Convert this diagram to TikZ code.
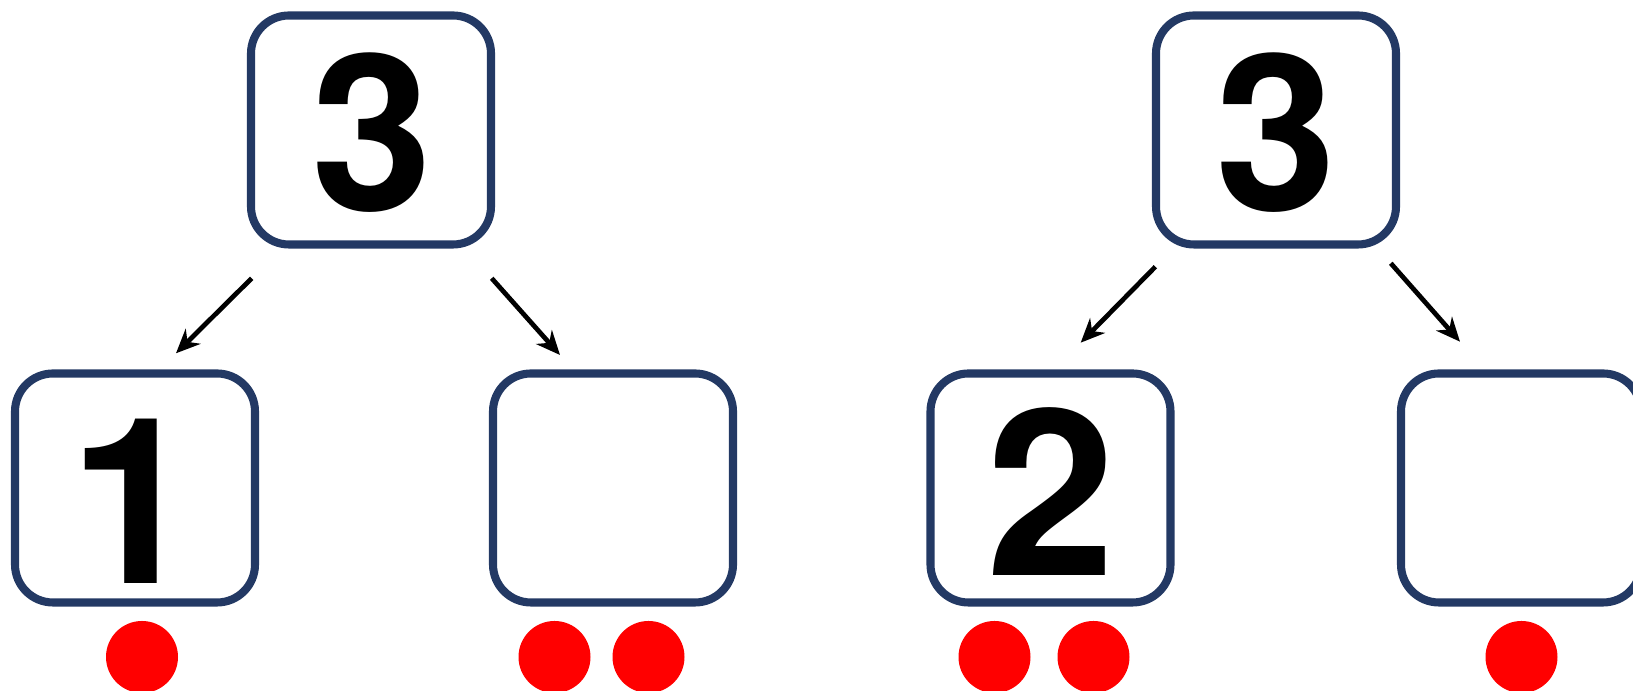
\documentclass[tikz,border=0pt]{standalone}
\usepackage{fontspec}
\setmainfont{TeX Gyre Heros}
\usepackage{tikz}
\usepackage{xcolor}
\usetikzlibrary{
    arrows.meta,
    positioning
}
\definecolor{boxblue}{RGB}{35,57,100}

\begin{document}
\begin{tikzpicture}[
        numbox/.style={draw=boxblue, line width=2.3pt, rounded corners=0.38cm,
            minimum width=2.4cm, minimum height=2.29cm, inner sep=0pt},
        counter/.style={circle, fill=red, minimum size=0.72cm, inner sep=0pt},
        pointer/.style={line width=1.35pt, -{Stealth[length=0.24cm, width=0.21cm]}},
        bignum/.style={inner sep=0pt, anchor=base, font=\fontsize{66}{66}\selectfont\bfseries},
        topnum/.style={bignum, font=\fontsize{62}{62}\selectfont\bfseries}
    ]
                        \useasboundingbox (0, 0) rectangle (16.33, 6.91);

                        % wholes
                        \node[numbox] (wholeL) at (3.71, 5.61) {};
                        \node[numbox] (wholeR) at (12.76, 5.61) {};
                        \node[topnum] (threeL) at (3.72, 4.80) {3};
                        \node[topnum] (threeR) at (12.765, 4.80) {3};

                        % parts
                        \node[numbox] (partA) at (1.35, 2.03) {};
                        \node[numbox] (partB) at (6.13, 2.03) {};
                        \node[numbox] (partC) at (10.505, 2.03) {};
                        \node[numbox] (partD) at (15.21, 2.03) {};
                        \node[bignum] (one) at (1.34, 1.07) {1};
                        \node[bignum] (two) at (10.51, 1.15) {2};

                        % arrows
                        \coordinate (fromA) at (2.517, 4.127);
                        \coordinate (toA) at (1.76, 3.377);
                        \coordinate (fromB) at (4.917, 4.127);
                        \coordinate (toB) at (5.60, 3.36);
                        \coordinate (fromC) at (11.554, 4.243);
                        \coordinate (toC) at (10.807, 3.483);
                        \coordinate (fromD) at (13.908, 4.277);
                        \coordinate (toD) at (14.60, 3.493);
                        \draw[pointer] (fromA) -- (toA);
                        \draw[pointer] (fromB) -- (toB);
                        \draw[pointer] (fromC) -- (toC);
                        \draw[pointer] (fromD) -- (toD);

                        % counters
                        \node[counter] (dotA) at (1.42, 0.34) {};
                        \node[counter] (dotB1) at (5.545, 0.34) {};
                        \node[counter] (dotB2) at (6.485, 0.34) {};
                        \node[counter] (dotC1) at (9.945, 0.34) {};
                        \node[counter] (dotC2) at (10.935, 0.34) {};
                        \node[counter] (dotD) at (15.215, 0.34) {};
                    \end{tikzpicture}
\end{document}
